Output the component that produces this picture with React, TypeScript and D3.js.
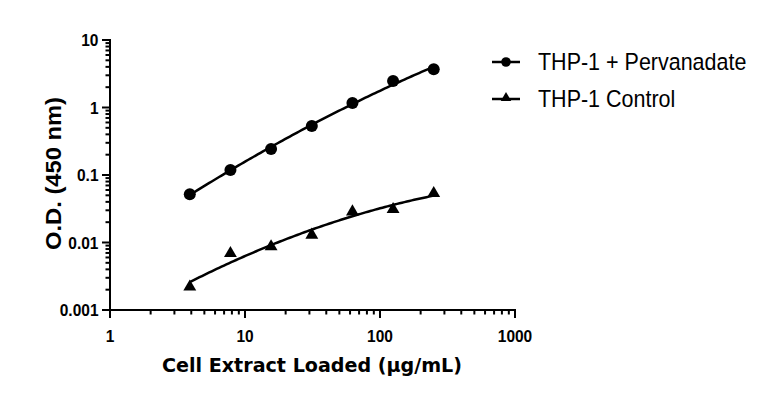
import React from "react";
import * as d3 from "d3";

const concentrations = [3.9, 7.8, 15.6, 31.25, 62.5, 125, 250];
const pervanadate = [0.052, 0.119, 0.243, 0.53, 1.17, 2.46, 3.7];
const control = [0.0022, 0.0069, 0.0087, 0.0129, 0.0286, 0.031, 0.0535];
const xTickValues = [1, 10, 100, 1000];
const yTickValues = [0.001, 0.01, 0.1, 1, 10];
const seriesNames = ["THP-1 + Pervanadate", "THP-1 Control"];

const W = 768;
const H = 393;
const FONT = "'Liberation Sans', Arial, sans-serif";

// quadratic least squares in log-log space (curve fit)
function fitQuad(xs: number[], ys: number[]) {
  const u = xs.map(Math.log10);
  const v = ys.map(Math.log10);
  const S = [0, 0, 0, 0, 0];
  const T = [0, 0, 0];
  for (let i = 0; i < u.length; i++) {
    for (let k = 0; k < 5; k++) S[k] += Math.pow(u[i], k);
    for (let k = 0; k < 3; k++) T[k] += v[i] * Math.pow(u[i], k);
  }
  const M = [
    [S[0], S[1], S[2], T[0]],
    [S[1], S[2], S[3], T[1]],
    [S[2], S[3], S[4], T[2]],
  ];
  for (let i = 0; i < 3; i++) {
    const p = M[i][i];
    for (let j = i; j < 4; j++) M[i][j] /= p;
    for (let r = 0; r < 3; r++) {
      if (r === i) continue;
      const f = M[r][i];
      for (let j = i; j < 4; j++) M[r][j] -= f * M[i][j];
    }
  }
  const [a, b, c] = [M[0][3], M[1][3], M[2][3]];
  return (x: number) => Math.pow(10, a + b * Math.log10(x) + c * Math.log10(x) ** 2);
}

export default function App() {
  const x = d3.scaleLog().domain([1, 1000]).range([110, 515]);
  const y = d3.scaleLog().domain([0.001, 10]).range([310, 40]);

  const xMinor: number[] = [];
  for (let d = 1; d < 1000; d *= 10) for (let k = 2; k <= 9; k++) xMinor.push(d * k);
  const yMinor: number[] = [];
  for (let d = 0.001; d < 9; d *= 10) for (let k = 2; k <= 9; k++) yMinor.push(d * k);

  const lo = Math.log10(concentrations[0]);
  const hi = Math.log10(concentrations[concentrations.length - 1]);
  const samples = d3.range(0, 101).map((i) => Math.pow(10, lo + ((hi - lo) * i) / 100));
  const f1 = fitQuad(concentrations, pervanadate);
  const f2 = fitQuad(concentrations, control);
  const path1 = d3.line<number>().x((d) => x(d)).y((d) => y(f1(d)))(samples) as string;
  const path2 = d3.line<number>().x((d) => x(d)).y((d) => y(f2(d)))(samples) as string;

  const tri = d3.symbol().type(d3.symbolTriangle).size(72)() as string;
  const triLegend = d3.symbol().type(d3.symbolTriangle).size(48)() as string;

  return (
    <svg
      width={W}
      height={H}
      style={{ position: "absolute", left: 0, top: 0, background: "#fff" }}
    >
      <rect width={W} height={H} fill="#fff" />
      {/* axes */}
      <g stroke="#000" strokeWidth={2} fill="none">
        <line x1={110} y1={39} x2={110} y2={311} />
        <line x1={109} y1={310} x2={516} y2={310} />
        {xTickValues.map((t) => (
          <line key={"xt" + t} x1={x(t)} x2={x(t)} y1={310} y2={318} />
        ))}
        {xMinor.map((t) => (
          <line key={"xm" + t} x1={x(t)} x2={x(t)} y1={310} y2={314.5} />
        ))}
        {yTickValues.map((t) => (
          <line key={"yt" + t} x1={102} x2={110} y1={y(t)} y2={y(t)} />
        ))}
        {yMinor.map((t) => (
          <line key={"ym" + t} x1={105.5} x2={110} y1={y(t)} y2={y(t)} />
        ))}
      </g>
      <g fontFamily={FONT} fontWeight="bold" fontSize={15.5} fill="#000">
        {xTickValues.map((t) => (
          <text
            key={"xl" + t}
            transform={`translate(${x(t)},342) scale(1,1.1)`}
            textAnchor="middle"
          >
            {String(t)}
          </text>
        ))}
        {yTickValues.map((t) => (
          <text
            key={"yl" + t}
            transform={`translate(98.5,${y(t) + 6}) scale(1,1.1)`}
            textAnchor="end"
          >
            {String(t)}
          </text>
        ))}
      </g>
      {/* axis titles */}
      <text
        transform="translate(61,173.5) rotate(-90)"
        textAnchor="middle"
        fontFamily={FONT}
        fontWeight="bold"
        fontSize={21.5}
        textLength={153}
        lengthAdjust="spacingAndGlyphs"
      >
        O.D. (450 nm)
      </text>
      <text
        x={312}
        y={372}
        textAnchor="middle"
        fontFamily="'DejaVu Sans', sans-serif"
        fontWeight="bold"
        fontSize={20}
        textLength={300}
        lengthAdjust="spacingAndGlyphs"
      >
        Cell Extract Loaded (μg/mL)
      </text>
      {/* curves */}
      <path d={path1} fill="none" stroke="#000" strokeWidth={2.5} />
      <path d={path2} fill="none" stroke="#000" strokeWidth={2.5} />
      {concentrations.map((c, i) => (
        <circle key={"c" + i} cx={x(c)} cy={y(pervanadate[i])} r={6} fill="#000" />
      ))}
      {concentrations.map((c, i) => (
        <path
          key={"t" + i}
          d={tri}
          transform={`translate(${x(c)},${y(control[i])})`}
          fill="#000"
        />
      ))}
      {/* legend */}
      <g>
        <line x1={492} x2={520} y1={62} y2={62} stroke="#000" strokeWidth={2.5} />
        <circle cx={506} cy={62} r={4.8} fill="#000" />
        <text
          transform="translate(538,70) scale(1,1.08)"
          fontFamily={FONT}
          fontSize={21.5}
        >
          {seriesNames[0]}
        </text>
        <line x1={492} x2={520} y1={99} y2={99} stroke="#000" strokeWidth={2.5} />
        <path d={triLegend} transform="translate(506,98)" fill="#000" />
        <text
          transform="translate(538,106.5) scale(1,1.08)"
          fontFamily={FONT}
          fontSize={21.5}
        >
          {seriesNames[1]}
        </text>
      </g>
    </svg>
  );
}
